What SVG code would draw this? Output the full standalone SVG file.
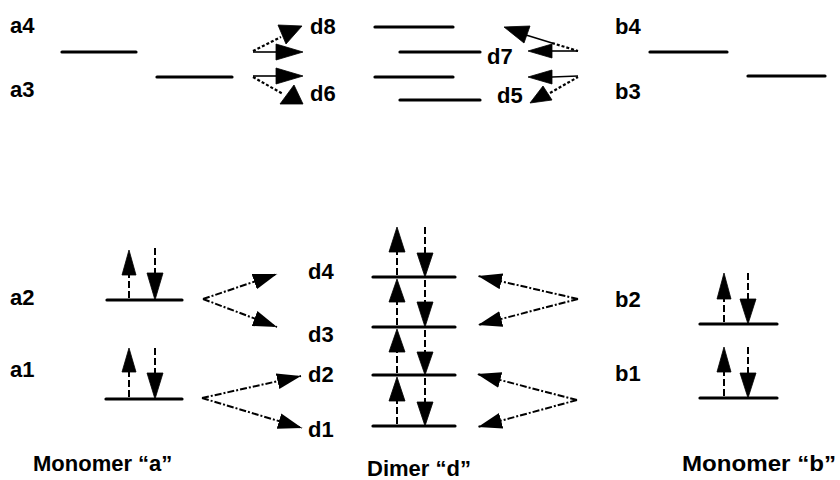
<svg xmlns="http://www.w3.org/2000/svg" width="840" height="480" viewBox="0 0 840 480">
  <style>
    .lvl { stroke: #000; stroke-width: 3.2; stroke-linecap: round; fill: none; }
    .lbl { font-family: "Liberation Sans", Arial, Helvetica, sans-serif; font-weight: bold; font-size: 22px; fill: #000; }
    .cap { font-family: "Liberation Sans", Arial, Helvetica, sans-serif; font-weight: bold; font-size: 22px; fill: #000; }
    .spin { stroke: #000; stroke-width: 2; stroke-dasharray: 7 3; fill: none; }
    .dd { stroke: #000; stroke-width: 2; stroke-dasharray: 7 2 2 2; fill: none; }
    .dot { stroke: #000; stroke-width: 2.2; stroke-dasharray: 3 2; fill: none; }
    .thin { stroke: #000; stroke-width: 1.6; fill: none; }
    .head { fill: #000; stroke: #000; stroke-width: 0.8; stroke-linejoin: round; }
  </style>
  <defs>
    <marker id="arrow" viewBox="0 0 24 16" markerWidth="24" markerHeight="16" refX="24" refY="8" orient="auto" markerUnits="userSpaceOnUse">
      <path d="M0,0 L24,8 L0,16 Z" fill="#000"/>
    </marker>
  </defs>

  <rect width="840" height="480" fill="#fff"/>

  <!-- Monomer a: levels -->
  <g id="a4"><text class="lbl" x="10" y="33">a4</text><line class="lvl" x1="62" y1="52" x2="136" y2="52"/></g>
  <g id="a3"><text class="lbl" x="10" y="97">a3</text><line class="lvl" x1="157" y1="77" x2="232" y2="77"/></g>
  <g id="a2">
    <text class="lbl" x="10" y="305">a2</text>
    <line class="lvl" x1="107" y1="300" x2="182" y2="300"/>
    <line class="spin" x1="129" y1="298" x2="129" y2="275"/>
    <polygon class="head" points="122,275 136,275 129,250"/>
    <line class="spin" x1="155" y1="248" x2="155" y2="273"/>
    <polygon class="head" points="147,273 163,273 155,300"/>
  </g>
  <g id="a1">
    <text class="lbl" x="10" y="377">a1</text>
    <line class="lvl" x1="106" y1="399" x2="182" y2="399"/>
    <line class="spin" x1="129" y1="397" x2="129" y2="372"/>
    <polygon class="head" points="122,372 136,372 129,348"/>
    <line class="spin" x1="155" y1="348" x2="155" y2="373"/>
    <polygon class="head" points="147,373 163,373 155,399"/>
  </g>
  <g id="caption-a"><text class="cap" x="33" y="471">Monomer “a”</text></g>

  <!-- Dimer d: levels -->
  <g id="d8"><text class="lbl" x="310" y="34">d8</text><line class="lvl" x1="375" y1="27" x2="453" y2="27"/></g>
  <g id="d7"><text class="lbl" x="487" y="64">d7</text><line class="lvl" x1="400" y1="52" x2="480" y2="52"/></g>
  <g id="d6"><text class="lbl" x="310" y="101">d6</text><line class="lvl" x1="375" y1="77" x2="453" y2="77"/></g>
  <g id="d5"><text class="lbl" x="497" y="103">d5</text><line class="lvl" x1="400" y1="100" x2="480" y2="100"/></g>

  <g id="d4">
    <text class="lbl" x="308" y="279">d4</text>
    <line class="lvl" x1="373" y1="277" x2="455" y2="277"/>
    <line class="spin" x1="397" y1="275" x2="397" y2="252"/>
    <polygon class="head" points="389,252 405,252 397,227"/>
    <line class="spin" x1="425" y1="227" x2="425" y2="253"/>
    <polygon class="head" points="417,253 433,253 425,277"/>
  </g>
  <g id="d3">
    <text class="lbl" x="308" y="342">d3</text>
    <line class="lvl" x1="373" y1="327" x2="455" y2="327"/>
    <line class="spin" x1="397" y1="325" x2="397" y2="302"/>
    <polygon class="head" points="389,302 405,302 397,279"/>
    <line class="spin" x1="425" y1="280" x2="425" y2="302"/>
    <polygon class="head" points="417,302 433,302 425,327"/>
  </g>
  <g id="d2">
    <text class="lbl" x="308" y="382">d2</text>
    <line class="lvl" x1="373" y1="375" x2="455" y2="375"/>
    <line class="spin" x1="397" y1="373" x2="397" y2="352"/>
    <polygon class="head" points="389,352 405,352 397,329"/>
    <line class="spin" x1="425" y1="330" x2="425" y2="352"/>
    <polygon class="head" points="417,352 433,352 425,375"/>
  </g>
  <g id="d1">
    <text class="lbl" x="308" y="437">d1</text>
    <line class="lvl" x1="373" y1="426" x2="455" y2="426"/>
    <line class="spin" x1="397" y1="424" x2="397" y2="401"/>
    <polygon class="head" points="389,401 405,401 397,377"/>
    <line class="spin" x1="425" y1="378" x2="425" y2="402"/>
    <polygon class="head" points="417,402 433,402 425,426"/>
  </g>
  <g id="caption-d"><text class="cap" x="367" y="476">Dimer “d”</text></g>

  <!-- Monomer b: levels -->
  <g id="b4"><text class="lbl" x="615" y="34">b4</text><line class="lvl" x1="650" y1="52" x2="727" y2="52"/></g>
  <g id="b3"><text class="lbl" x="615" y="99">b3</text><line class="lvl" x1="748" y1="76" x2="825" y2="76"/></g>
  <g id="b2">
    <text class="lbl" x="615" y="307">b2</text>
    <line class="lvl" x1="700" y1="324" x2="777" y2="324"/>
    <line class="spin" x1="724" y1="322" x2="724" y2="299"/>
    <polygon class="head" points="717,299 731,299 724,273"/>
    <line class="spin" x1="748" y1="273" x2="748" y2="299"/>
    <polygon class="head" points="740,299 756,299 748,324"/>
  </g>
  <g id="b1">
    <text class="lbl" x="615" y="381">b1</text>
    <line class="lvl" x1="700" y1="398" x2="777" y2="398"/>
    <line class="spin" x1="724" y1="396" x2="724" y2="372"/>
    <polygon class="head" points="717,372 731,372 724,347"/>
    <line class="spin" x1="748" y1="347" x2="748" y2="373"/>
    <polygon class="head" points="740,373 756,373 748,398"/>
  </g>
  <g id="caption-b"><text class="cap" x="682" y="471" textLength="154" lengthAdjust="spacingAndGlyphs">Monomer “b”</text></g>

  <!-- Couplings between monomer and dimer levels -->
  <g id="connectors">
    <!-- a3/a4 to d5..d8 -->
    <line class="thin" x1="253" y1="52" x2="278" y2="52"/>
    <polygon class="head" points="276,44 276,60 303,52"/>
    <line class="dot" x1="253" y1="51" x2="281" y2="37"/>
    <polygon class="head" points="278,25 302,26 286,44"/>
    <line class="thin" x1="253" y1="76" x2="278" y2="76"/>
    <polygon class="head" points="276,68 276,84 303,76"/>
    <line class="dot" x1="253" y1="77" x2="283" y2="94"/>
    <polygon class="head" points="280,104 303,104 294,85"/>

    <!-- b3/b4 to d5..d8 -->
    <line class="thin" x1="526" y1="35" x2="552" y2="43"/>
    <line class="dot" x1="552" y1="43" x2="578" y2="51"/>
    <polygon class="head" points="504,27 530,26 524,43"/>
    <line class="thin" x1="552" y1="51" x2="578" y2="51"/>
    <polygon class="head" points="528,51 552,44 552,58"/>
    <line class="thin" x1="552" y1="77" x2="578" y2="76"/>
    <polygon class="head" points="528,77 552,70 552,84"/>
    <line class="dot" x1="550" y1="93" x2="578" y2="77"/>
    <polygon class="head" points="530,103 552,100 543,86"/>

    <!-- a1/a2 to d1..d4 -->
    <path class="dd" d="M203,299 L277,274" marker-end="url(#arrow)"/>
    <path class="dd" d="M203,299 L277,327" marker-end="url(#arrow)"/>
    <path class="dd" d="M202,398 L301,376" marker-end="url(#arrow)"/>
    <path class="dd" d="M202,398 L302,428" marker-end="url(#arrow)"/>

    <!-- b1/b2 to d1..d4 -->
    <path class="dd" d="M578,299 L478,276" marker-end="url(#arrow)"/>
    <path class="dd" d="M578,299 L478,325" marker-end="url(#arrow)"/>
    <path class="dd" d="M577,400 L477,374" marker-end="url(#arrow)"/>
    <path class="dd" d="M577,400 L478,427" marker-end="url(#arrow)"/>
  </g>
</svg>
